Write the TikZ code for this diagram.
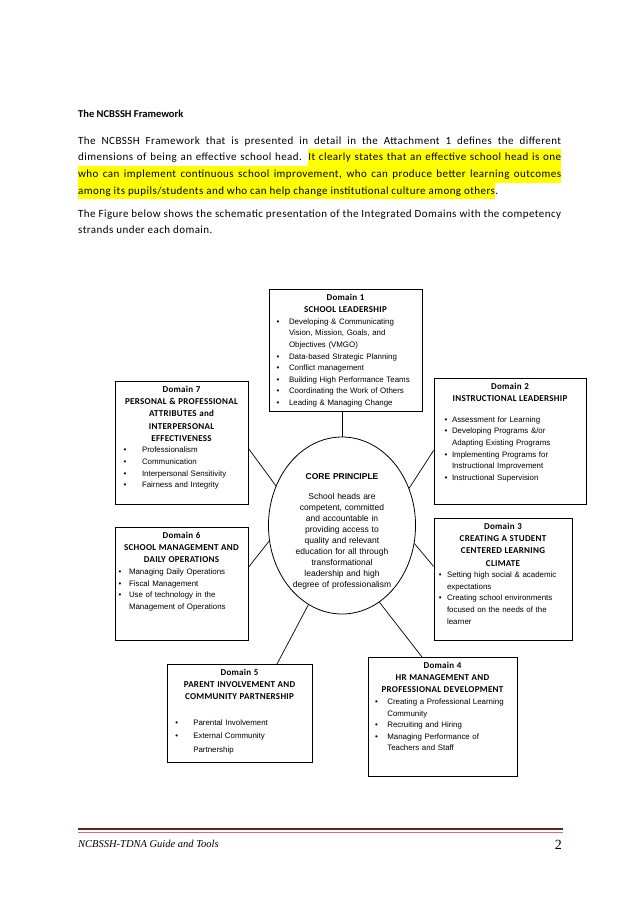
\documentclass[tikz,border=0pt]{standalone}
\usepackage{fontspec}
\setmainfont{Carlito}
\newfontfamily\bodyfont[LetterSpace=4]{Carlito}
\newfontfamily\headfamily[LetterSpace=3]{Carlito}
\newfontfamily\arialfont{Liberation Sans}
\newfontfamily\cambriafont{Liberation Serif}
\usepackage{tikz}
\usetikzlibrary{shapes.geometric}

\definecolor{hlyellow}{RGB}{255, 255, 0}
\definecolor{footred}{RGB}{99, 37, 35}
\definecolor{footpink}{RGB}{185, 120, 118}

\newcommand{\headfont}{\headfamily\fontsize{9}{12.2}\selectfont\bfseries}
\newcommand{\strandfont}{\arialfont\fontsize{7.9}{11.6}\selectfont}
\newcommand{\domhead}[2]{{\centering\headfont #1\\#2\par}}
\newenvironment{strands}[2]{%
  \begin{list}{\textbullet}{%
    \setlength{\leftmargin}{#1}\setlength{\labelsep}{#2}%
    \setlength{\labelwidth}{\dimexpr#1-#2\relax}%
    \setlength{\itemsep}{0pt}\setlength{\parsep}{0pt}%
    \setlength{\topsep}{0pt}\setlength{\partopsep}{0pt}}}%
  {\end{list}}

\begin{document}
\begin{tikzpicture}[x=1pt, y=-1pt,
  domainbox/.style={draw, line width=0.8pt, anchor=north, inner xsep=3pt, inner ysep=3pt, text height=8pt, align=left, font=\strandfont},
  link/.style={line width=0.7pt},
  para/.style={anchor=base west, inner sep=0pt, text width=483pt, align=justify, font=\bodyfont\fontsize{11}{16.7}\selectfont},
]
\useasboundingbox (0,0) rectangle (638,902);

% Highlighted sentence
\fill[hlyellow] (308,149) rectangle (561,166);
\fill[hlyellow] (78,166) rectangle (561,182.5);
\fill[hlyellow] (78,182.5) rectangle (495,199);

% Text above the figure
\node[anchor=base west, inner sep=0pt, font=\fontsize{10.5}{13}\selectfont\bfseries] (title) at (78,117) {The NCBSSH Framework};
\node[para] (intro) at (78,144) {The NCBSSH Framework that is presented in detail in the Attachment 1 defines the different\linebreak dimensions of being an effective school head.  It clearly states that an effective school head is one\linebreak who can implement continuous school improvement, who can produce better learning outcomes\linebreak among its pupils/students and who can help change institutional culture among others.};
\node[para] (figtext) at (78,217) {The Figure below shows the schematic presentation of the Integrated Domains with the competency\linebreak strands under each domain.};

% Core principle
\node[draw, ellipse, line width=0.8pt, minimum width=146pt, minimum height=177pt, inner sep=0pt, text width=104pt, text height=6.5pt, text depth=99.5pt, align=center, font=\arialfont\fontsize{8.5}{11}\selectfont] (core) at (342,525.5) {{\bfseries CORE PRINCIPLE}\par\vspace{9pt}School heads are\\ competent, committed\\ and accountable in\\ providing access to\\ quality and relevant\\ education for all through\\ transformational\\ leadership and high\\ degree of professionalism};

% Domains
\node[domainbox, text width=147pt, text depth=108pt] (d1) at (345.5,289) {\domhead{Domain 1}{SCHOOL LEADERSHIP}
\begin{strands}{17pt}{9.5pt}
\item Developing \& Communicating\\ Vision, Mission, Goals, and\\ Objectives (VMGO)
\item Data-based Strategic Planning
\item Conflict management
\item Building High Performance Teams
\item Coordinating the Work of Others
\item Leading \& Managing Change
\end{strands}};

\node[domainbox, text width=146pt, text depth=112pt] (d2) at (510,378) {\domhead{Domain 2}{INSTRUCTIONAL LEADERSHIP}\vspace{9pt}
\begin{strands}{15pt}{4.6pt}
\item Assessment for  Learning
\item Developing Programs \&/or\\ Adapting Existing Programs
\item Implementing Programs for\\ Instructional Improvement
\item Instructional Supervision
\end{strands}};

\node[domainbox, text width=132pt, text depth=108pt] (d3) at (503,518) {\domhead{Domain 3}{CREATING A STUDENT\\ CENTERED LEARNING\\ CLIMATE}
\begin{strands}{10pt}{5.3pt}
\item Setting high social \& academic\\ expectations
\item Creating school environments\\ focused on the needs of the\\ learner
\end{strands}};

\node[domainbox, text width=143pt, text depth=105pt] (d4) at (442.5,657) {\domhead{Domain 4}{HR MANAGEMENT AND\\ PROFESSIONAL DEVELOPMENT}
\begin{strands}{16.3pt}{9.3pt}
\item Creating a Professional Learning\\ Community
\item Recruiting and Hiring
\item Managing Performance of\\ Teachers and  Staff
\end{strands}};

\node[domainbox, text width=139pt, text depth=84pt] (d5) at (239.5,664) {\domhead{Domain 5}{PARENT INVOLVEMENT AND\\ COMMUNITY PARTNERSHIP}\vspace{12pt}
\fontsize{7.9}{13.5}\selectfont
\begin{strands}{23.3pt}{15.2pt}
\item Parental Involvement
\item External Community\\ Partnership
\end{strands}};

\node[domainbox, text width=127pt, text depth=99pt] (d6) at (181.5,527) {\domhead{Domain 6}{SCHOOL MANAGEMENT AND\\ DAILY OPERATIONS}
\begin{strands}{11pt}{7.6pt}
\item Managing Daily  Operations
\item Fiscal Management
\item Use of technology in the\\ Management of Operations
\end{strands}};

\node[domainbox, text width=127pt, text depth=109pt] (d7) at (181.5,381) {\domhead{Domain 7}{PERSONAL \& PROFESSIONAL\\ ATTRIBUTES  and\\ INTERPERSONAL\\ EFFECTIVENESS}
\begin{strands}{24pt}{15.5pt}
\item Professionalism
\item Communication
\item Interpersonal Sensitivity
\item Fairness and Integrity
\end{strands}};

% Links
\draw[link] (core.north |- d1.south) -- (core.north);
\draw[link] ([yshift=-9pt]d2.west) -- (core.29.3);
\draw[link] ([yshift=13pt]d3.west) -- (core.346.3);
\draw[link] ([xshift=-20.5pt]d4.north) -- (core.296);
\draw[link] ([xshift=37.5pt]d5.north) -- (core.247.7);
\draw[link] ([yshift=16.5pt]d6.east) -- (core.192.9);
\draw[link] ([yshift=-5.5pt]d7.east) -- (core.149);

% Footer
\draw[footred, line width=2.6pt] (78,829) -- (563,829);
\draw[footpink, line width=0.7pt] (78,832.3) -- (563,832.3);
\node[anchor=base west, inner sep=0pt, font=\cambriafont\itshape\fontsize{10.5}{13}\selectfont] (foot) at (78,847) {NCBSSH-TDNA Guide and Tools};
\node[anchor=base east, inner sep=0pt, font=\cambriafont\fontsize{14}{16}\selectfont] (pageno) at (562,849) {2};
\end{tikzpicture}
\end{document}
